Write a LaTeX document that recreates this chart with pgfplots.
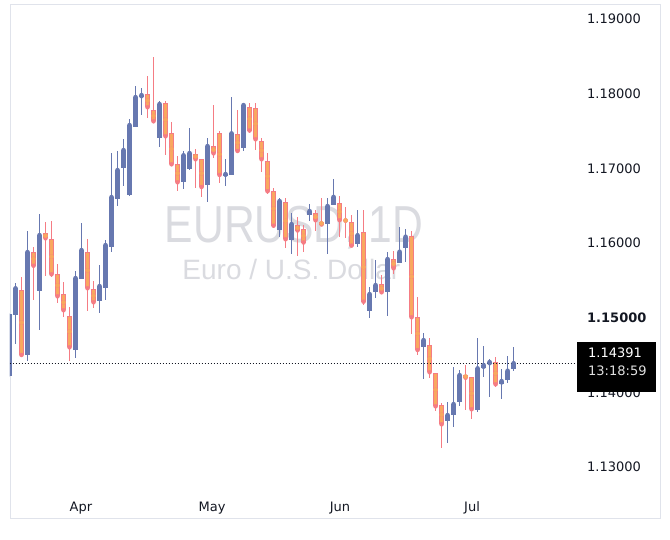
\documentclass[border=0pt]{standalone}
\usepackage{fontspec}
\setmainfont{DejaVu Sans}
\newfontfamily\wmfont{Liberation Sans}
\usepackage{graphicx}
\usepackage{pgfplots}
\usepackage{pgfplotstable}
\pgfplotsset{compat=1.18}
\definecolor{upc}{HTML}{6778B0}
\definecolor{dnfill}{HTML}{F9A85F}
\definecolor{dnline}{HTML}{F57C84}
\definecolor{tvtext}{HTML}{131722}
\definecolor{wm}{HTML}{DADBE0}
\definecolor{framec}{HTML}{E0E3EB}

\pgfplotstableread{
k o h l c
0 1.14219 1.15063 1.14206 1.15049
1 1.15036 1.15469 1.14648 1.15394
3 1.14500 1.16161 1.14420 1.15880
5 1.15361 1.16389 1.14835 1.16107
11 1.14571 1.15625 1.14464 1.15531
12 1.15522 1.16268 1.15520 1.15906
15 1.15227 1.15706 1.15059 1.15424
16 1.15402 1.16040 1.15237 1.15973
17 1.15951 1.17209 1.15884 1.16616
18 1.16593 1.17232 1.16500 1.16978
19 1.17009 1.17393 1.16764 1.17246
20 1.16643 1.17661 1.16630 1.17580
21 1.17558 1.18103 1.17555 1.17955
22 1.17951 1.18076 1.17714 1.17982
25 1.17402 1.17902 1.17290 1.17862
29 1.16821 1.17232 1.16727 1.17175
30 1.16987 1.17540 1.16978 1.17205
33 1.16773 1.17406 1.16553 1.17299
36 1.16907 1.17121 1.16768 1.16924
37 1.16915 1.17955 1.16910 1.17469
39 1.17268 1.17875 1.17236 1.17848
45 1.16181 1.16607 1.16085 1.16563
47 1.16047 1.16402 1.15853 1.16255
50 1.16379 1.16527 1.16299 1.16429
53 1.16261 1.16605 1.15857 1.16496
54 1.16516 1.16857 1.16512 1.16619
58 1.15983 1.16442 1.15940 1.16105
60 1.15096 1.15415 1.15002 1.15317
61 1.15348 1.15773 1.15268 1.15438
63 1.15348 1.15884 1.15023 1.15786
65 1.15736 1.16210 1.15733 1.15884
66 1.15929 1.16184 1.15750 1.16085
69 1.14611 1.14799 1.14183 1.14701
73 1.13623 1.13875 1.13326 1.13697
74 1.13697 1.14344 1.13540 1.13844
75 1.13875 1.14299 1.13817 1.14232
78 1.13764 1.14728 1.13741 1.14322
79 1.14322 1.14621 1.14210 1.14366
80 1.14376 1.14447 1.13942 1.14407
82 1.14116 1.14309 1.13911 1.14152
83 1.14166 1.14487 1.14129 1.14290
84 1.14317 1.14603 1.14290 1.14391
}\upcandles

\pgfplotstableread{
k o h l c
2 1.15371 1.15541 1.14478 1.14500
4 1.15880 1.15947 1.15237 1.15696
6 1.16134 1.16281 1.15558 1.16063
7 1.16054 1.16295 1.15549 1.15581
8 1.15581 1.15719 1.15193 1.15286
9 1.15313 1.15482 1.15013 1.15099
10 1.15023 1.15139 1.14420 1.14603
13 1.15876 1.16054 1.15094 1.15394
14 1.15380 1.15491 1.15134 1.15206
23 1.17996 1.18237 1.17670 1.17818
24 1.17777 1.18491 1.17603 1.17630
26 1.17875 1.17902 1.17183 1.17429
27 1.17469 1.17621 1.17050 1.17054
28 1.17058 1.17165 1.16693 1.16813
31 1.17196 1.17259 1.16741 1.17121
32 1.17121 1.17125 1.16612 1.16750
34 1.17299 1.17848 1.17134 1.17201
35 1.17469 1.17500 1.16808 1.16911
38 1.17456 1.17785 1.17228 1.17232
40 1.17818 1.17879 1.17477 1.17507
41 1.17804 1.17871 1.17246 1.17389
42 1.17360 1.17402 1.16955 1.17121
43 1.17098 1.17201 1.16663 1.16693
44 1.16693 1.16737 1.16201 1.16232
46 1.16545 1.16603 1.15929 1.16050
48 1.16239 1.16346 1.15826 1.16168
49 1.16184 1.16235 1.15873 1.16007
51 1.16398 1.16442 1.16161 1.16304
52 1.16279 1.16605 1.16224 1.16248
55 1.16533 1.16624 1.16074 1.16305
56 1.16305 1.16482 1.16067 1.16300
57 1.16288 1.16375 1.15949 1.15965
59 1.16143 1.16442 1.15170 1.15214
62 1.15447 1.15572 1.15338 1.15340
64 1.15786 1.15893 1.15581 1.15661
67 1.16098 1.16157 1.14778 1.15005
68 1.15005 1.15281 1.14500 1.14567
70 1.14634 1.14732 1.14188 1.14269
71 1.14255 1.14258 1.13750 1.13813
72 1.13827 1.13854 1.13251 1.13572
76 1.14228 1.14366 1.13764 1.14196
77 1.14202 1.14205 1.13639 1.13773
81 1.14403 1.14470 1.14076 1.14108
}\dncandles

\begin{document}
\begin{tikzpicture}[x=1pt,y=1pt]
\useasboundingbox (0,0) rectangle (670,539);
\fill[white] (0,0) rectangle (670,539);
\draw[framec, line width=1pt] (10,21) rectangle (660,534);
\node[anchor=base, inner sep=0pt, text=wm] at (293.9,296) {\resizebox{258pt}{36.3pt}{\wmfont EURUSD, 1D}};
\node[anchor=base, inner sep=0pt, text=wm] at (291.4,259) {\fontsize{28}{30}\selectfont\wmfont Euro / U.S. Dollar};
\begin{axis}[
  at={(10pt,49pt)}, anchor=south west, scale only axis,
  width=566pt, height=485pt,
  xmin=0.083, xmax=94.4, ymin=1.126924, ymax=1.191875,
  axis line style={draw=none},
  major tick length=0pt,
  ytick={1.13,1.14,1.15,1.16,1.17,1.18,1.19},
  yticklabels={1.13000,1.14000,\textbf{1.15000},1.16000,1.17000,1.18000,1.19000},
  yticklabel pos=right,
  yticklabel style={anchor=west, inner sep=0pt, xshift=11pt, font=\fontsize{13}{15}\selectfont, text=tvtext},
  xtick={11.9,33.75,55.08,77.08},
  xticklabels={Apr,May,Jun,Jul},
  xticklabel style={anchor=base, inner sep=0pt, yshift=-21pt, font=\fontsize{13}{15}\selectfont, text=tvtext},
  clip=true,
]
% wicks
\addplot[upc, only marks, mark=none, error bars/.cd, y dir=both, y explicit, error mark=none,
  error bar style={line width=1pt, upc}]
  table[x=k, y=c, y error plus expr=\thisrow{h}-\thisrow{c}, y error minus expr=\thisrow{c}-\thisrow{l}] {\upcandles};
\addplot[dnline, only marks, mark=none, error bars/.cd, y dir=both, y explicit, error mark=none,
  error bar style={line width=1pt, dnline}]
  table[x=k, y=c, y error plus expr=\thisrow{h}-\thisrow{c}, y error minus expr=\thisrow{c}-\thisrow{l}] {\dncandles};
% bodies
\addplot[upc, only marks, mark=none, error bars/.cd, y dir=both, y explicit, error mark=none,
  error bar style={line width=4.8pt, upc}]
  table[x=k, y expr=(\thisrow{o}+\thisrow{c})/2, y error expr={max((\thisrow{c}-\thisrow{o})/2,0.00007)}] {\upcandles};
\addplot[dnline, only marks, mark=none, error bars/.cd, y dir=both, y explicit, error mark=none,
  error bar style={line width=4.8pt, dnline}]
  table[x=k, y expr=(\thisrow{o}+\thisrow{c})/2, y error expr={max((\thisrow{o}-\thisrow{c})/2,0.00007)}] {\dncandles};
\addplot[dnfill, only marks, mark=none, error bars/.cd, y dir=both, y explicit, error mark=none,
  error bar style={line width=3.0pt, dnfill}]
  table[x=k, y expr=(\thisrow{o}+\thisrow{c})/2, y error expr={max((\thisrow{o}-\thisrow{c})/2-0.00012,0)}] {\dncandles};
% current price line
\addplot[tvtext, line width=1pt, dash pattern=on 1pt off 2pt] coordinates {(0,1.14391) (95,1.14391)};
\end{axis}
\fill[black] (577,147) rectangle (656,197);
\node[anchor=base west, inner sep=0pt, text=white, font=\fontsize{13}{15}\selectfont] at (588,181) {1.14391};
\node[anchor=base west, inner sep=0pt, text=white!88!black, font=\fontsize{13}{15}\selectfont] at (588,164) {13:18:59};
\end{tikzpicture}
\end{document}
